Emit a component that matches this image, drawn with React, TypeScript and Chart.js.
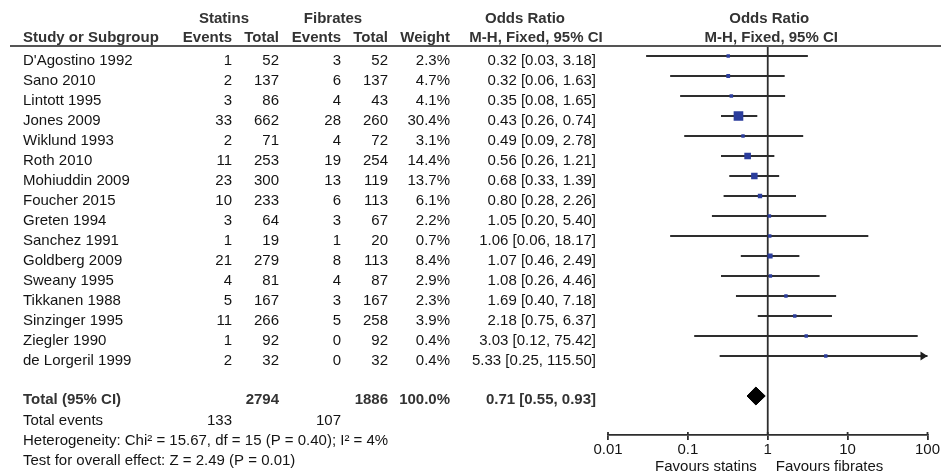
import React, { useEffect, useRef } from 'react';
import { Chart, registerables } from 'chart.js';

Chart.register(...registerables);

// ---------- data ----------
const STUDIES = [
  "D'Agostino 1992", 'Sano 2010', 'Lintott 1995', 'Jones 2009', 'Wiklund 1993', 'Roth 2010',
  'Mohiuddin 2009', 'Foucher 2015', 'Greten 1994', 'Sanchez 1991', 'Goldberg 2009', 'Sweany 1995',
  'Tikkanen 1988', 'Sinzinger 1995', 'Ziegler 1990', 'de Lorgeril 1999',
];
const STATIN_EVENTS = [1, 2, 3, 33, 2, 11, 23, 10, 3, 1, 21, 4, 5, 11, 1, 2];
const STATIN_TOTAL = [52, 137, 86, 662, 71, 253, 300, 233, 64, 19, 279, 81, 167, 266, 92, 32];
const FIBRATE_EVENTS = [3, 6, 4, 28, 4, 19, 13, 6, 3, 1, 8, 4, 3, 5, 0, 0];
const FIBRATE_TOTAL = [52, 137, 43, 260, 72, 254, 119, 113, 67, 20, 113, 87, 167, 258, 92, 32];
const WEIGHTS = [2.3, 4.7, 4.1, 30.4, 3.1, 14.4, 13.7, 6.1, 2.2, 0.7, 8.4, 2.9, 2.3, 3.9, 0.4, 0.4];
const ODDS = [0.32, 0.32, 0.35, 0.43, 0.49, 0.56, 0.68, 0.8, 1.05, 1.06, 1.07, 1.08, 1.69, 2.18, 3.03, 5.33];
const LOWER = [0.03, 0.06, 0.08, 0.26, 0.09, 0.26, 0.33, 0.28, 0.2, 0.06, 0.46, 0.26, 0.4, 0.75, 0.12, 0.25];
const UPPER = [3.18, 1.63, 1.65, 0.74, 2.78, 1.21, 1.39, 2.26, 5.4, 18.17, 2.49, 4.46, 7.18, 6.37, 75.42, 115.5];

const TOTAL_STATIN_N = 2794;
const TOTAL_FIBRATE_N = 1886;
const TOTAL_WEIGHT = 100.0;
const TOTAL_STATIN_EVENTS = 133;
const TOTAL_FIBRATE_EVENTS = 107;
const TOTAL_OR = 0.71;
const TOTAL_LOWER = 0.55;
const TOTAL_UPPER = 0.93;

const HETEROGENEITY = 'Heterogeneity: Chi² = 15.67, df = 15 (P = 0.40); I² = 4%';
const OVERALL = 'Test for overall effect: Z = 2.49 (P = 0.01)';

const X_TICKS = [0.01, 0.1, 1, 10, 100];

// ---------- layout / style ----------
const W = 941;
const H = 473;
const TOTAL_ROW = STUDIES.length + 1;
const FONT_FAMILY = '"Liberation Sans", Arial, Helvetica, sans-serif';
const TEXT = '#141414';
const LINE = '#2e2e2e';
const SQUARE = '#2b3d9c';
const COLS = { name: 23, sEv: 232, sTot: 279, fEv: 341, fTot: 388, wt: 450, ci: 596 };
const BASE_OFF = 8.5;

const fmtCI = (o: number, l: number, u: number) => `${o.toFixed(2)} [${l.toFixed(2)}, ${u.toFixed(2)}]`;

const tablePlugin = {
  id: 'forestTable',
  afterDraw(chart: any) {
    const { ctx, chartArea, scales } = chart;
    const xs = scales.x;
    const ys = scales.y;
    const f = (bold: boolean) => `${bold ? 'bold ' : ''}15px ${FONT_FAMILY}`;
    ctx.save();
    ctx.fillStyle = TEXT;
    ctx.textBaseline = 'alphabetic';

    const txt = (s: string, x: number, y: number, align: CanvasTextAlign, bold = false, color = TEXT) => {
      ctx.font = f(bold);
      ctx.textAlign = align;
      ctx.fillStyle = color;
      ctx.fillText(s, x, y);
    };

    const HEAD = '#333333';
    // header
    const h1 = chartArea.top - 23;
    const h2 = chartArea.top - 4;
    const plotMid = (chartArea.left + chartArea.right) / 2;
    txt('Statins', 224, h1, 'center', true, HEAD);
    txt('Fibrates', 333, h1, 'center', true, HEAD);
    txt('Odds Ratio', 525, h1, 'center', true, HEAD);
    txt('Odds Ratio', plotMid + 1.5, h1, 'center', true, HEAD);
    txt('Study or Subgroup', COLS.name, h2, 'left', true, HEAD);
    txt('Events', COLS.sEv, h2, 'right', true, HEAD);
    txt('Total', COLS.sTot, h2, 'right', true, HEAD);
    txt('Events', COLS.fEv, h2, 'right', true, HEAD);
    txt('Total', COLS.fTot, h2, 'right', true, HEAD);
    txt('Weight', COLS.wt, h2, 'right', true, HEAD);
    txt('M-H, Fixed, 95% CI', 536, h2, 'center', true, HEAD);
    txt('M-H, Fixed, 95% CI', plotMid + 3.5, h2, 'center', true, HEAD);

    // header rule
    ctx.strokeStyle = '#555';
    ctx.lineWidth = 2;
    ctx.beginPath();
    ctx.moveTo(10, chartArea.top);
    ctx.lineTo(W, chartArea.top);
    ctx.stroke();

    // study rows
    STUDIES.forEach((s, i) => {
      const by = ys.getPixelForValue(i) + BASE_OFF;
      txt(s, COLS.name, by, 'left');
      txt(String(STATIN_EVENTS[i]), COLS.sEv, by, 'right');
      txt(String(STATIN_TOTAL[i]), COLS.sTot, by, 'right');
      txt(String(FIBRATE_EVENTS[i]), COLS.fEv, by, 'right');
      txt(String(FIBRATE_TOTAL[i]), COLS.fTot, by, 'right');
      txt(`${WEIGHTS[i].toFixed(1)}%`, COLS.wt, by, 'right');
      txt(fmtCI(ODDS[i], LOWER[i], UPPER[i]), COLS.ci, by, 'right');
    });

    // totals
    const ty = ys.getPixelForValue(TOTAL_ROW) + BASE_OFF - 1;
    txt('Total (95% CI)', COLS.name, ty, 'left', true, HEAD);
    txt(String(TOTAL_STATIN_N), COLS.sTot, ty, 'right', true, HEAD);
    txt(String(TOTAL_FIBRATE_N), COLS.fTot, ty, 'right', true, HEAD);
    txt(`${TOTAL_WEIGHT.toFixed(1)}%`, COLS.wt, ty, 'right', true, HEAD);
    txt(fmtCI(TOTAL_OR, TOTAL_LOWER, TOTAL_UPPER), COLS.ci, ty, 'right', true, HEAD);

    const ey = ys.getPixelForValue(TOTAL_ROW + 1) + BASE_OFF;
    txt('Total events', COLS.name, ey, 'left');
    txt(String(TOTAL_STATIN_EVENTS), COLS.sEv, ey, 'right');
    txt(String(TOTAL_FIBRATE_EVENTS), COLS.fEv, ey, 'right');
    txt(HETEROGENEITY, COLS.name, ys.getPixelForValue(TOTAL_ROW + 2) + BASE_OFF, 'left');
    txt(OVERALL, COLS.name, ys.getPixelForValue(TOTAL_ROW + 3) + BASE_OFF, 'left');

    // favours labels
    const mid = xs.getPixelForValue(1);
    const fy = H - 2.5;
    txt('Favours statins', mid - 11, fy, 'right');
    txt('Favours fibrates', mid + 8, fy, 'left');

    // arrows for CIs beyond the axis
    ctx.fillStyle = '#1e1e1e';
    UPPER.forEach((u, i) => {
      if (u > xs.max) {
        const py = ys.getPixelForValue(i);
        const r = chartArea.right;
        ctx.beginPath();
        ctx.moveTo(r, py);
        ctx.lineTo(r - 7, py - 4.5);
        ctx.lineTo(r - 7, py + 4.5);
        ctx.closePath();
        ctx.fill();
      }
    });

    // upper half of axis ticks
    ctx.strokeStyle = LINE;
    ctx.lineWidth = 1.8;
    X_TICKS.forEach((v) => {
      const px = xs.getPixelForValue(v);
      ctx.beginPath();
      ctx.moveTo(px, chartArea.bottom - 3);
      ctx.lineTo(px, chartArea.bottom);
      ctx.stroke();
    });

    ctx.restore();
  },
};

export default function App() {
  const ref = useRef<HTMLCanvasElement | null>(null);

  useEffect(() => {
    if (!ref.current) return;

    const whiskers: any[] = [];
    STUDIES.forEach((_, i) => {
      whiskers.push({ x: LOWER[i], y: i });
      whiskers.push({ x: UPPER[i], y: i });
      whiskers.push({ x: null, y: null });
    });

    const squares = STUDIES.map((_, i) => ({ x: ODDS[i], y: i }));
    const DIAMOND_HALF = 0.45;
    const diamond = [
      { x: TOTAL_LOWER, y: TOTAL_ROW },
      { x: TOTAL_OR, y: TOTAL_ROW - DIAMOND_HALF },
      { x: TOTAL_UPPER, y: TOTAL_ROW },
      { x: TOTAL_OR, y: TOTAL_ROW + DIAMOND_HALF },
      { x: TOTAL_LOWER, y: TOTAL_ROW },
    ];
    const yMin = -0.5;
    const yMax = 18.95;

    const chart = new Chart(ref.current, {
      type: 'line',
      data: {
        datasets: [
          {
            label: 'OR',
            data: squares,
            showLine: false,
            pointStyle: 'rect',
            pointRadius: (c: any) => Math.max(3.4, 1.75 * Math.sqrt(WEIGHTS[c.dataIndex] || 0)) / Math.SQRT2,
            pointBackgroundColor: SQUARE,
            pointBorderWidth: 0,
            pointBorderColor: SQUARE,
          } as any,
          {
            label: 'CI',
            data: whiskers,
            borderColor: LINE,
            borderWidth: 2,
            pointRadius: 0,
            spanGaps: false,
          },
          {
            label: 'Total',
            data: diamond,
            borderColor: '#000',
            backgroundColor: '#000',
            borderWidth: 1,
            pointRadius: 0,
            fill: 'shape',
          } as any,
          {
            label: 'null',
            data: [
              { x: 1, y: yMin },
              { x: 1, y: yMax },
            ],
            borderColor: LINE,
            borderWidth: 1.8,
            pointRadius: 0,
          },
        ],
      },
      options: {
        animation: false,
        responsive: false,
        events: [],
        layout: { padding: { left: 608, right: 12, top: 46, bottom: 0 } },
        plugins: { legend: { display: false }, tooltip: { enabled: false } },
        scales: {
          x: {
            type: 'logarithmic',
            min: 0.01,
            max: 100,
            position: 'bottom',
            afterBuildTicks: (s: any) => {
              s.ticks = X_TICKS.map((v) => ({ value: v }));
            },
            afterFit: (s: any) => {
              s.height = 38;
            },
            grid: {
              display: true,
              drawOnChartArea: false,
              drawTicks: true,
              tickLength: 5,
              color: LINE,
              lineWidth: 1.8,
            },
            border: { display: true, color: LINE, width: 1.8 },
            ticks: {
              autoSkip: false,
              maxRotation: 0,
              padding: 1,
              color: TEXT,
              font: { family: FONT_FAMILY, size: 15 },
              callback: (v: any) => String(v),
            },
          },
          y: {
            type: 'linear',
            min: yMin,
            max: yMax,
            reverse: true,
            display: false,
          },
        },
      } as any,
      plugins: [tablePlugin],
    });

    return () => chart.destroy();
  }, []);

  return (
    <div style={{ position: 'fixed', left: 0, top: 0, width: W, height: H, background: '#fff' }}>
      <canvas ref={ref} width={W} height={H} style={{ width: W, height: H, display: 'block' }} />
    </div>
  );
}
